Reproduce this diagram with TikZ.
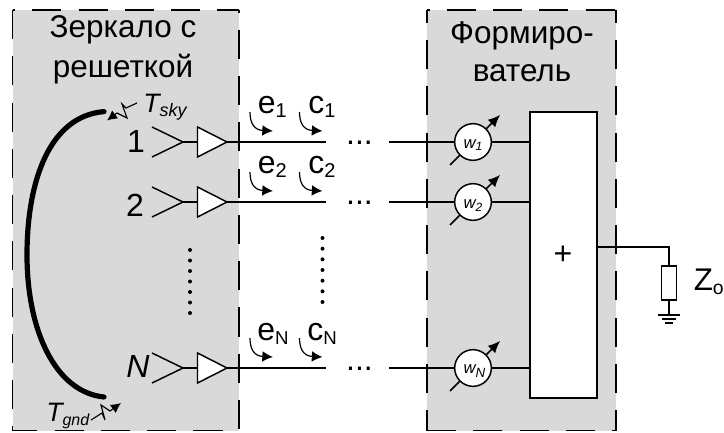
\documentclass[tikz,border=0pt]{standalone}
\usepackage{fontspec}
\setmainfont{Liberation Sans}
\usetikzlibrary{arrows.meta,calc}
\definecolor{panel}{gray}{0.85}
\newcommand{\fs}[1]{\fontsize{#1}{#1}\selectfont}
\newcommand{\sbt}[3]{\raisebox{#2}{\fs{#1}#3}}
\tikzset{
  x=0.75pt,y=-0.75pt,
  edgeline/.style={line width=1.1pt,dash pattern=on 21.8pt off 12.9pt},
  wire/.style={line width=1.2pt},
  lab/.style={inner sep=0pt,anchor=base},
  title/.style={lab,font=\fs{23.6}},
  amp/.style={draw,fill=white,line width=1.1pt},
  wcirc/.style={circle,draw,fill=white,line width=1.1pt,minimum size=27.5pt,inner sep=0pt},
  tuner/.style={line width=1.1pt,-{Latex[length=9pt,width=8pt]}},
  curl/.style={line width=0.9pt,line join=round,-{Latex[length=8pt,width=8pt]}},
  wave/.style={line width=0.85pt,-{Latex[length=7.5pt,width=7.5pt]}},
  vdot/.style={fill=black,circle,inner sep=0pt,minimum size=3pt},
  bigtxt/.style={lab,font=\fs{24}},
}
\begin{document}
\begin{tikzpicture}
\useasboundingbox (0,0) rectangle (724,432);
\fill[white] (0,0) rectangle (724,432);
% panels
\fill[panel] (12.5,10) rectangle (239,430.5);
\fill[panel] (427,10) rectangle (616,430.5);
\draw[edgeline] (12.5,10) -- (12.5,430.5) -- (239,430.5);
\draw[edgeline,dash phase=19.8pt] (12.5,10) -- (239,10);
\draw[edgeline,dash phase=19.8pt] (239,10) -- (239,430.5);
\draw[edgeline,dash phase=12.2pt] (427,10) -- (427,430.5);
\draw[edgeline,dash phase=12.2pt] (616,10) -- (616,430.5);
\draw[edgeline,dash phase=19.8pt] (427,10) -- (616,10);
\draw[edgeline] (427,430.5) -- (616,430.5);
% titles
\node[title] (t1) at (123,37.3) {Зеркало с};
\node[title] (t2) at (123,77) {решеткой};
\node[title] (t3) at (522,43.3) {Формиро-};
\node[title] (t4) at (522,81.7) {ватель};
% mirror
\draw[line width=3.9pt,line cap=round] (104,111.6) .. controls (50,116) and (27,180) .. (27,255) .. controls (27,330) and (55,392) .. (104,397);
% sum box
\node[draw,fill=white,line width=1.2pt,minimum width=50.25pt,minimum height=214.5pt,inner sep=0pt] (sum) at (563.5,255) {};
% rows
\foreach \n/\y in {1/142,2/202,3/368}{
  \coordinate (fa\n) at (183,\y);
  \draw[line width=1.1pt] (152,\y-15) -- (fa\n) -- (152,\y+15);
  \coordinate (ai\n) at (197.5,\y);
  \coordinate (ao\n) at (227,\y);
  \draw[amp] (197.5,\y-15) -- (ao\n) -- (197.5,\y+15) -- cycle;
  \draw[wire] (fa\n) -- (ai\n);
  \coordinate (le\n) at (326,\y);
  \coordinate (rs\n) at (389,\y);
  \draw[wire] (ao\n) -- (le\n);
  \node[lab,font=\fs{24}] (dots\n) at (359.5,\y+2) {...};
  \coordinate (ts\n) at (450,\y+23);
  \coordinate (te\n) at (500,\y-27);
  \draw[tuner] (ts\n) -- (te\n);
  \node[wcirc] (w\n) at (473,\y) {};
  \draw[wire] (rs\n) -- (w\n);
  \draw[wire] (w\n) -- (w\n -| sum.west);
  \coordinate (ca\n) at (250,\y-30);
  \coordinate (cb\n) at (273,\y-11);
  \coordinate (cc\n) at (299.5,\y-30);
  \coordinate (cd\n) at (322.5,\y-11);
  \draw[curl] (ca\n) .. controls (250,\y-19) and (254,\y-12) .. (cb\n);
  \draw[curl] (cc\n) .. controls (299.5,\y-19) and (303.5,\y-12) .. (cd\n);
}
% weights
\node[lab,font=\fs{12.5}\itshape] at (473,148) {w\sbt{9}{-2pt}{1}};
\node[lab,font=\fs{12.5}\itshape] at (473,208.5) {w\sbt{9}{-2pt}{2}};
\node[lab,font=\fs{12.5}\itshape] at (474.5,373) {w\sbt{10}{-3pt}{N}};
% labels
\node[bigtxt] at (136,152) {1};
\node[bigtxt] at (135,216) {2};
\node[bigtxt,font=\fs{24}\itshape] at (138,377) {N};
\foreach \n/\b/\d/\sf/\subt in {1/113/3pt/15/1,2/173/3.6pt/15/2}{
  \node[lab,anchor=base west,font=\fs{24}] at (257.5,\b) {e\sbt{\sf}{-\d}{\subt}};
  \node[lab,anchor=base west,font=\fs{24}] at (308,\b) {c\sbt{\sf}{-\d}{\subt}};
}
\node[lab,anchor=base west,font=\fs{24}] at (257,340) {e\sbt{14}{-3pt}{N}};
\node[lab,anchor=base west,font=\fs{24}] at (307,340) {c\sbt{14}{-3pt}{N}};
\node[lab,anchor=base west,font=\fs{20}\itshape] at (143,112) {T\sbt{13.5}{-3.5pt}{sky}};
\node[lab,anchor=base west,font=\fs{20}\itshape] at (46,421) {T\sbt{12}{-3pt}{gnd}};
% noise arrows
\coordinate (sk0) at (137,103);
\coordinate (sk1) at (107,120.5);
\draw[wave] (sk0) -- (126,108) -- (122,104) -- (127,118) -- (117,113) -- (sk1);
\coordinate (gn0) at (91,420);
\coordinate (gn1) at (121,403);
\draw[wave] (gn0) -- (102,413) -- (105,420) -- (101,405) -- (110,411) -- (gn1);
% vertical dots
\foreach \yy in {250,260.5,271,281.5,292,302.5,313}{\node[vdot] at (190,\yy) {};}
\foreach \yy in {238,248.7,259.3,270,280.7,291.3,302}{\node[vdot] at (322.5,\yy) {};}
% plus
\node[lab,font=\fs{24}] (plus) at (563,264) {+};
% output
\coordinate (o2) at (669,247);
\coordinate (g0) at (669,315);
\draw[line width=0.9pt] (sum.east |- o2) -- (o2) -- (g0);
\node[draw,fill=white,line width=1pt,minimum width=11.25pt,minimum height=25.5pt,inner sep=0pt] (res) at (668.75,283) {};
\draw[line width=1pt] (658,315) -- (680,315);
\draw[line width=1pt] (662,319) -- (676,319);
\draw[line width=1.2pt] (665,323) -- (673,323);
\node[lab,anchor=base west,font=\fs{23.5}] (z) at (693.5,290.7) {Z\sbt{14.5}{-2.5pt}{o}};
\end{tikzpicture}
\end{document}
